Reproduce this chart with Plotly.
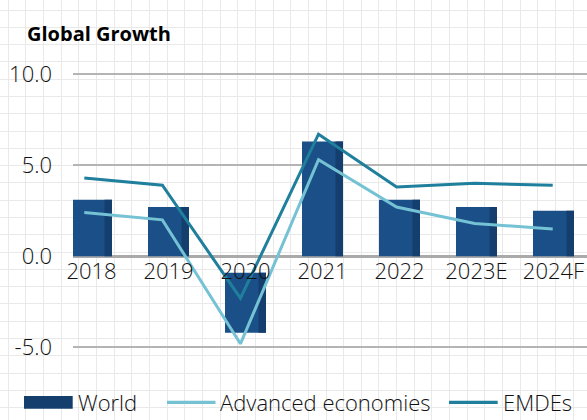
import plotly.graph_objects as go

# ---- data -------------------------------------------------------------
years = ["2018", "2019", "2020", "2021", "2022", "2023E", "2024F"]
world = [3.1, 2.7, -4.2, 6.3, 3.1, 2.7, 2.5]
advanced = [2.4, 2.0, -4.8, 5.3, 2.7, 1.8, 1.5]
emdes = [4.3, 3.9, -2.3, 6.7, 3.8, 4.0, 3.9]
y_ticks = [-5, 0, 5, 10]
y_tick_labels = [f"{v:.1f}" for v in y_ticks]

# ---- styling / layout constants ------------------------------------------
W, H = 587, 420
FONT = "Open Sans"
TEXT = "#111111"
BAR_MAIN = "#1a4f88"
BAR_SIDE = "#143e6e"
C_ADV = "#74c2d4"
C_EMDE = "#1f7f9c"
GRID_MAJOR = "#b4b4b4"
GRID_PAPER = "#e9e9e9"

plot_left, plot_right = 73, W            # pixel extent of the chart area
zero_px, px_per_unit = 256.3, 18.23      # vertical scale of the value axis
y_min, y_max = -6.5, 10.5
top_px = zero_px - y_max * px_per_unit
bot_px = zero_px - y_min * px_per_unit
y_domain = [1 - bot_px / H, 1 - top_px / H]
x_domain = [plot_left / W, plot_right / W]

cat_step = 77.0                          # pixels between category centres
first_center = 91.5
x_range = [(plot_left - first_center) / cat_step,
           (plot_right - first_center) / cat_step]

# lines use their own category axis with slightly wider spacing
line_step, line_first = 78.07, 84.3
x3_range = [(plot_left - line_first) / line_step,
            (plot_right - line_first) / line_step]

bar_w = 41 / cat_step
side_w = 7.5 / cat_step
label_gap = 0.9                          # negative bars start below the year labels

bases = [(-label_gap if v < 0 else 0) for v in world]
lengths = [v - b for v, b in zip(world, bases)]

fig = go.Figure()

# World bars: main face plus darker right edge
fig.add_trace(go.Bar(
    x=years, y=lengths, base=bases, xaxis="x2", yaxis="y2",
    width=bar_w, offset=-bar_w / 2, marker=dict(color=BAR_MAIN, line_width=0),
    showlegend=False, hoverinfo="skip"))
fig.add_trace(go.Bar(
    x=years, y=lengths, base=bases, xaxis="x2", yaxis="y2",
    width=side_w, offset=bar_w / 2 - side_w, marker=dict(color=BAR_SIDE, line_width=0),
    name="World", showlegend=False))

fig.add_trace(go.Scatter(
    x=years, y=advanced, xaxis="x3", yaxis="y2", mode="lines",
    line=dict(color=C_ADV, width=3), name="Advanced economies", showlegend=False))
fig.add_trace(go.Scatter(
    x=years, y=emdes, xaxis="x3", yaxis="y2", mode="lines",
    line=dict(color=C_EMDE, width=3), name="EMDEs", showlegend=False))

# ---- legend drawn in page pixel coordinates (x/y background axes) ----------
fig.add_shape(type="rect", xref="x", yref="y", x0=24, x1=72.7, y0=396, y1=408.7,
              fillcolor=BAR_SIDE, line_width=0, layer="above")
fig.add_shape(type="line", xref="x", yref="y", x0=167, x1=215.5, y0=402.3, y1=402.3,
              line=dict(color=C_ADV, width=3.3), layer="above")
fig.add_shape(type="line", xref="x", yref="y", x0=449, x1=497.7, y0=402.3, y1=402.3,
              line=dict(color=C_EMDE, width=3.3), layer="above")
legend_font = dict(family=FONT, size=22, color=TEXT, weight=300)
for x0, label in [(75.5, "World"), (218, "Advanced economies"), (501, "EMDEs")]:
    fig.add_annotation(x=x0, y=401.5, xref="x", yref="y", text=label, showarrow=False,
                       xanchor="left", yanchor="middle", font=legend_font)

fig.add_annotation(x=25, y=33, xref="x", yref="y", text="<b>Global Growth</b>",
                   showarrow=False, xanchor="left", yanchor="middle",
                   font=dict(family=FONT, size=20, color="#000000"))

zero_pos = y_domain[0] + (0 - y_min) / (y_max - y_min) * (y_domain[1] - y_domain[0])
tick_font = dict(family=FONT, size=22, color=TEXT, weight=300)

fig.update_layout(
    template=None,
    width=W, height=H,
    margin=dict(l=0, r=0, t=0, b=0, pad=0),
    paper_bgcolor="white",
    plot_bgcolor="rgba(0,0,0,0)",
    barmode="overlay",
    showlegend=False,
    # background graph-paper grid, in page pixels
    xaxis=dict(domain=[0, 1], range=[0, W], tick0=8.3, dtick=17.65,
               showgrid=True, gridcolor=GRID_PAPER, gridwidth=1, automargin=False,
               showticklabels=False, zeroline=False, showline=False, ticks="",
               fixedrange=True),
    yaxis=dict(domain=[0, 1], range=[H, 0], tick0=10, dtick=17.29,
               showgrid=True, gridcolor=GRID_PAPER, gridwidth=1, automargin=False,
               showticklabels=False, zeroline=False, showline=False, ticks="",
               fixedrange=True),
    # chart axes
    xaxis2=dict(domain=x_domain, range=x_range, type="category",
                anchor="free", position=zero_pos, automargin=False,
                showgrid=False, zeroline=False, showline=False, ticks="",
                tickfont=tick_font),
    xaxis3=dict(domain=x_domain, range=x3_range, type="category",
                overlaying="x2", visible=False, automargin=False),
    yaxis2=dict(domain=y_domain, range=[y_min, y_max], anchor="x2", automargin=False,
                tickvals=y_ticks, ticktext=y_tick_labels,
                showgrid=True, gridcolor=GRID_MAJOR, gridwidth=2,
                zeroline=True, zerolinecolor="#aaaaaa", zerolinewidth=2.5,
                showline=False, ticks="", ticklabelstandoff=20,
                tickfont=tick_font),
)

fig.write_html("out.html")
